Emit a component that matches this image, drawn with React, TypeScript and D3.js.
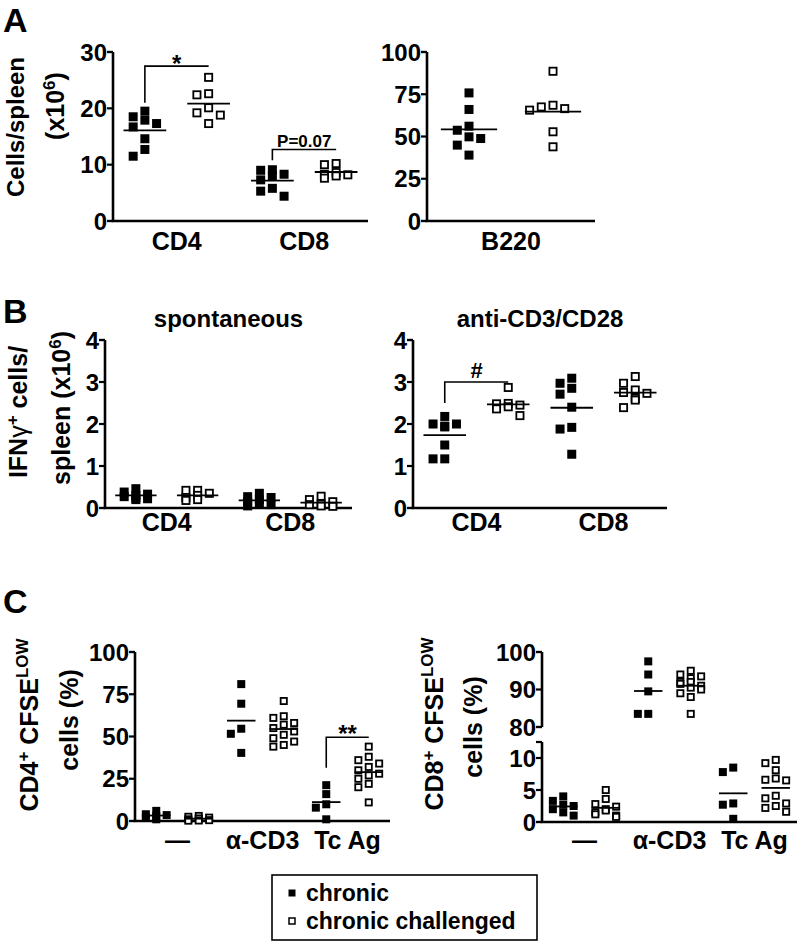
import * as d3 from "d3";

const FONT = '"Liberation Sans", Arial, Helvetica, sans-serif';
const groupNames = ["chronic", "chronic challenged"];

// A: cells / spleen (x10^6)
const tCellCats = ["CD4", "CD8"];
const tCellCD4Chronic = [19.5, 18.5, 17.9, 17.3, 16.7, 14.6, 12.7, 11.5];
const tCellCD4Challenged = [25.5, 22.4, 22.6, 19.2, 20.1, 18.8, 17.3];
const tCellCD8Chronic = [9.1, 9.0, 8.3, 8.0, 7.3, 5.8, 5.3, 4.4];
const tCellCD8Challenged = [10.2, 10.0, 8.6, 8.3, 8.0, 7.6, 8.2];
const tCellTicks = [0, 10, 20, 30];

const bCellCats = ["B220"];
const bCellChronic = [75.8, 66, 56.1, 53.7, 49.8, 48.8, 44.9, 39];
const bCellChallenged = [88.6, 68.5, 67.5, 66.5, 65.6, 52.8, 43.9];
const bCellTicks = [0, 25, 50, 75, 100];

// B: IFNg+ cells / spleen (x10^6)
const ifnCats = ["CD4", "CD8"];
const ifnSponCD4Chronic = [0.46, 0.38, 0.33, 0.3, 0.27, 0.24, 0.22, 0.2];
const ifnSponCD4Challenged = [0.42, 0.42, 0.35, 0.3, 0.25, 0.2, 0.18];
const ifnSponCD8Chronic = [0.35, 0.27, 0.25, 0.2, 0.15, 0.12, 0.08, 0.05];
const ifnSponCD8Challenged = [0.28, 0.2, 0.15, 0.1, 0.08, 0.05, 0.04];
const ifnStimCD4Chronic = [2.18, 2.0, 1.93, 2.0, 1.95, 1.5, 1.17, 1.17];
const ifnStimCD4Challenged = [2.87, 2.49, 2.48, 2.45, 2.41, 2.36, 2.2];
const ifnStimCD8Chronic = [3.09, 2.97, 2.85, 2.71, 2.4, 1.92, 1.88, 1.28];
const ifnStimCD8Challenged = [3.13, 2.97, 2.81, 2.75, 2.73, 2.61, 2.57, 2.39];
const ifnTicks = [0, 1, 2, 3, 4];

// C: CFSE low cells (%)
const cfseCats = ["\u2014", "\u03b1-CD3", "Tc Ag"];
const cd4NoneChronic = [6, 4, 3.5, 3, 2, 1];
const cd4NoneChallenged = [3, 2.5, 2, 1.5, 1, 0.5, 0.2, 0.3];
const cd4Cd3Chronic = [81, 69.4, 54.6, 51.6, 40.3];
const cd4Cd3Challenged = [71, 62, 61, 58, 57, 55, 53, 51, 49, 47, 45, 44];
const cd4TcChronic = [21.2, 15.9, 9.9, 7.9, 1];
const cd4TcChallenged = [44, 38, 36, 34, 32, 30, 28, 27, 25, 22, 20, 11];
const cd4CfseTicks = [0, 25, 50, 75, 100];

const cd8NoneChronic = [4.0, 3.3, 2.7, 2.5, 2.0, 1.5, 1.0];
const cd8NoneChallenged = [5, 3.6, 2.8, 2.4, 2.0, 1.8, 1.5, 1.2, 1.0, 0.8];
const cd8Cd3Chronic = [97.5, 94, 89.5, 83.5, 83.5];
const cd8Cd3Challenged = [95, 94, 93.5, 93, 92, 92, 91.5, 91, 90.5, 90, 89, 88, 83.5];
const cd8TcChronic = [8.5, 7.8, 2.9, 2.7, 0.5];
const cd8TcChallenged = [9.7, 9.2, 8.1, 6.8, 6.6, 6.5, 4.1, 3.7, 2.9, 2.5, 2.2, 1.6];
const cd8UpperTicks = [80, 90, 100];
const cd8LowerTicks = [0, 5, 10];

type Segment = { domain: [number, number]; range: [number, number]; ticks: number[] };
type Bracket = { cat: number; top: number; bottom: number; text: string; size: number; dy: number };
type Panel = {
  cats: string[];
  series: number[][][];
  x0: number;
  x1: number;
  segments: Segment[];
  labelY: number;
  marker: number;
  title?: string;
  titleY?: number;
  brackets?: Bracket[];
};

// simple dodge so overlapping points sit side by side (like a Prism scatter)
function swarm(values: number[], yOf: (v: number) => number, size: number, maxHalf: number) {
  const step = size * 1.3;
  const cands = [0];
  for (let k = 1; k * step <= maxHalf + 0.1; k++) cands.push(-k * step, k * step);
  const placed: { dx: number; y: number }[] = [];
  const res = new Array(values.length).fill(0);
  const order = d3.range(values.length).sort((a, b) => values[b] - values[a]);
  for (const i of order) {
    const y = yOf(values[i]);
    let best = 0, bestHits = Infinity;
    for (const c of cands) {
      const hits = placed.filter(p => Math.abs(p.dx - c) < size && Math.abs(p.y - y) < size).length;
      if (hits < bestHits) { best = c; bestHits = hits; }
      if (hits === 0) break;
    }
    placed.push({ dx: best, y });
    res[i] = best;
  }
  return res;
}

function DotPanel({ p }: { p: Panel }) {
  const x = d3.scaleBand().domain(p.cats).range([p.x0, p.x1]);
  const inner = d3.scaleBand().domain(groupNames).range([0, x.bandwidth()]);
  const scales = p.segments.map(s => d3.scaleLinear().domain(s.domain).range(s.range));
  const y = (v: number) => {
    const i = p.segments.findIndex(s => v >= s.domain[0] && v <= s.domain[1]);
    return scales[i < 0 ? 0 : i](v);
  };
  const yBottom = d3.max(p.segments, s => s.range[0]) as number;
  const gx = (ci: number, gi: number) => (x(p.cats[ci]) as number) + (inner(groupNames[gi]) as number) + inner.bandwidth() / 2;
  const m = p.marker;
  const meanW = inner.bandwidth() * 0.67;

  return (
    <g>
      {p.segments.map((s, i) => (
        <g key={"seg" + i}>
          <line x1={p.x0} x2={p.x0} y1={s.range[0]} y2={s.range[1]} stroke="#000" strokeWidth={2.6} />
          {[...s.ticks, ...s.range.map(r => scales[i].invert(r))].map((t, j) => (
            <line key={j} x1={p.x0 - 6} x2={p.x0} y1={scales[i](t)} y2={scales[i](t)} stroke="#000" strokeWidth={2.2} />
          ))}
          {s.ticks.map(t => (
            <text key={t} x={p.x0 - 6} y={scales[i](t)} dy="0.36em" textAnchor="end" fontSize={24} fontWeight="bold">{t}</text>
          ))}
        </g>
      ))}
      <line x1={p.x0 - 1.3} x2={p.x1} y1={yBottom} y2={yBottom} stroke="#000" strokeWidth={2.6} />
      {p.cats.map(c => (
        <text key={c} x={(x(c) as number) + x.bandwidth() / 2} y={p.labelY} textAnchor="middle" fontSize={25} fontWeight="bold">{c}</text>
      ))}
      {p.title && (
        <text x={(p.x0 + p.x1) / 2} y={p.titleY} textAnchor="middle" fontSize={24} fontWeight="bold">{p.title}</text>
      )}
      {p.series.map((cat, ci) => cat.map((vals, gi) => {
        const cx = gx(ci, gi);
        const offs = swarm(vals, y, m, inner.bandwidth() * 0.28);
        const mean = d3.mean(vals) as number;
        return (
          <g key={ci + "-" + gi}>
            {vals.map((v, k) => gi === 0 ? (
              <rect key={k} x={cx + offs[k] - m / 2} y={y(v) - m / 2} width={m} height={m} fill="#000" />
            ) : (
              <rect key={k} x={cx + offs[k] - m / 2 + 0.9} y={y(v) - m / 2 + 0.9} width={m - 1.8} height={m - 1.8} fill="#fff" stroke="#000" strokeWidth={1.8} />
            ))}
            <line x1={cx - meanW / 2} x2={cx + meanW / 2} y1={y(mean)} y2={y(mean)} stroke="#000" strokeWidth={1.8} />
          </g>
        );
      }))}
      {(p.brackets || []).map((b, i) => {
        const a = gx(b.cat, 0), c = gx(b.cat, 1);
        const by = y(b.top);
        return (
          <g key={"br" + i}>
            <path d={`M${a},${y(b.bottom)}V${by}H${c}`} fill="none" stroke="#000" strokeWidth={1.6} />
            <text x={(a + c) / 2} y={by + b.dy} textAnchor="middle" fontSize={b.size} fontWeight="bold">{b.text}</text>
          </g>
        );
      })}
    </g>
  );
}

const panels: Panel[] = [
  {
    cats: tCellCats,
    series: [[tCellCD4Chronic, tCellCD4Challenged], [tCellCD8Chronic, tCellCD8Challenged]],
    x0: 113, x1: 368,
    segments: [{ domain: [0, 30], range: [221, 52], ticks: tCellTicks }],
    labelY: 250, marker: 9,
    brackets: [
      { cat: 0, top: 27.5, bottom: 21, text: "*", size: 24, dy: 6 },
      { cat: 1, top: 12.7, bottom: 10.8, text: "P=0.07", size: 17, dy: -2 },
    ],
  },
  {
    cats: bCellCats,
    series: [[bCellChronic, bCellChallenged]],
    x0: 427, x1: 595,
    segments: [{ domain: [0, 100], range: [221, 52], ticks: bCellTicks }],
    labelY: 250, marker: 9,
  },
  {
    cats: ifnCats,
    series: [[ifnSponCD4Chronic, ifnSponCD4Challenged], [ifnSponCD8Chronic, ifnSponCD8Challenged]],
    x0: 105, x1: 352,
    segments: [{ domain: [0, 4], range: [508, 340], ticks: ifnTicks }],
    labelY: 531, marker: 9,
    title: "spontaneous", titleY: 327,
  },
  {
    cats: ifnCats,
    series: [[ifnStimCD4Chronic, ifnStimCD4Challenged], [ifnStimCD8Chronic, ifnStimCD8Challenged]],
    x0: 413, x1: 667,
    segments: [{ domain: [0, 4], range: [508, 340], ticks: ifnTicks }],
    labelY: 531, marker: 9,
    title: "anti-CD3/CD28", titleY: 327,
    brackets: [{ cat: 0, top: 3.0, bottom: 2.5, text: "#", size: 22, dy: -4 }],
  },
  {
    cats: cfseCats,
    series: [[cd4NoneChronic, cd4NoneChallenged], [cd4Cd3Chronic, cd4Cd3Challenged], [cd4TcChronic, cd4TcChallenged]],
    x0: 135, x1: 390,
    segments: [{ domain: [0, 100], range: [821, 652], ticks: cd4CfseTicks }],
    labelY: 849, marker: 8,
    brackets: [{ cat: 2, top: 49.6, bottom: 31.5, text: "**", size: 24, dy: 5 }],
  },
  {
    cats: cfseCats,
    series: [[cd8NoneChronic, cd8NoneChallenged], [cd8Cd3Chronic, cd8Cd3Challenged], [cd8TcChronic, cd8TcChallenged]],
    x0: 542, x1: 797,
    segments: [
      { domain: [0, 12.5], range: [822, 742], ticks: cd8LowerTicks },
      { domain: [80, 100], range: [727, 652], ticks: cd8UpperTicks },
    ],
    labelY: 849, marker: 8,
  },
];

function YLabel({ x, y, children, size = 25 }: { x: number; y: number; children: any; size?: number }) {
  return (
    <text transform={`translate(${x},${y}) rotate(-90)`} textAnchor="middle" fontSize={size} fontWeight="bold">
      {children}
    </text>
  );
}

export default function App() {
  return (
    <svg width={800} height={945} viewBox="0 0 800 945"
      style={{ position: "absolute", left: 0, top: 0, background: "#fff" }}
      fontFamily={FONT}>
      <text x={3} y={32} fontSize={34} fontWeight="bold">A</text>
      <text x={3} y={323} fontSize={34} fontWeight="bold">B</text>
      <text x={3} y={613} fontSize={34} fontWeight="bold">C</text>

      <YLabel x={24} y={127} size={24}>Cells/spleen</YLabel>
      <YLabel x={64} y={106}>(x10<tspan dy={-9} fontSize={17}>6</tspan><tspan dy={9}>)</tspan></YLabel>

      <YLabel x={27} y={412}>IFN<tspan fontWeight="normal">γ</tspan><tspan dy={-9} fontSize={17}>+</tspan><tspan dy={9}> cells/</tspan></YLabel>
      <YLabel x={70} y={408}>spleen (x10<tspan dy={-9} fontSize={17}>6</tspan><tspan dy={9}>)</tspan></YLabel>

      <YLabel x={38} y={725}>CD4<tspan dy={-9} fontSize={17}>+</tspan><tspan dy={9}> CFSE</tspan><tspan dy={-10} fontSize={17}>LOW</tspan></YLabel>
      <YLabel x={78} y={720}>cells (%)</YLabel>

      <YLabel x={443} y={724}>CD8<tspan dy={-9} fontSize={17}>+</tspan><tspan dy={9}> CFSE</tspan><tspan dy={-10} fontSize={17}>LOW</tspan></YLabel>
      <YLabel x={482} y={727}>cells (%)</YLabel>

      {panels.map((p, i) => <DotPanel key={i} p={p} />)}

      <g>
        <rect x={272} y={875} width={265} height={65} fill="none" stroke="#000" strokeWidth={1.6} />
        {groupNames.map((g, i) => (
          <g key={g}>
            {i === 0 ? (
              <rect x={288.5} y={889.5 + i * 28} width={7} height={7} fill="#000" />
            ) : (
              <rect x={289} y={890 + i * 28} width={6} height={6} fill="#fff" stroke="#000" strokeWidth={1.5} />
            )}
            <text x={306} y={901 + i * 28} fontSize={23} fontWeight="bold">{g}</text>
          </g>
        ))}
      </g>
    </svg>
  );
}
